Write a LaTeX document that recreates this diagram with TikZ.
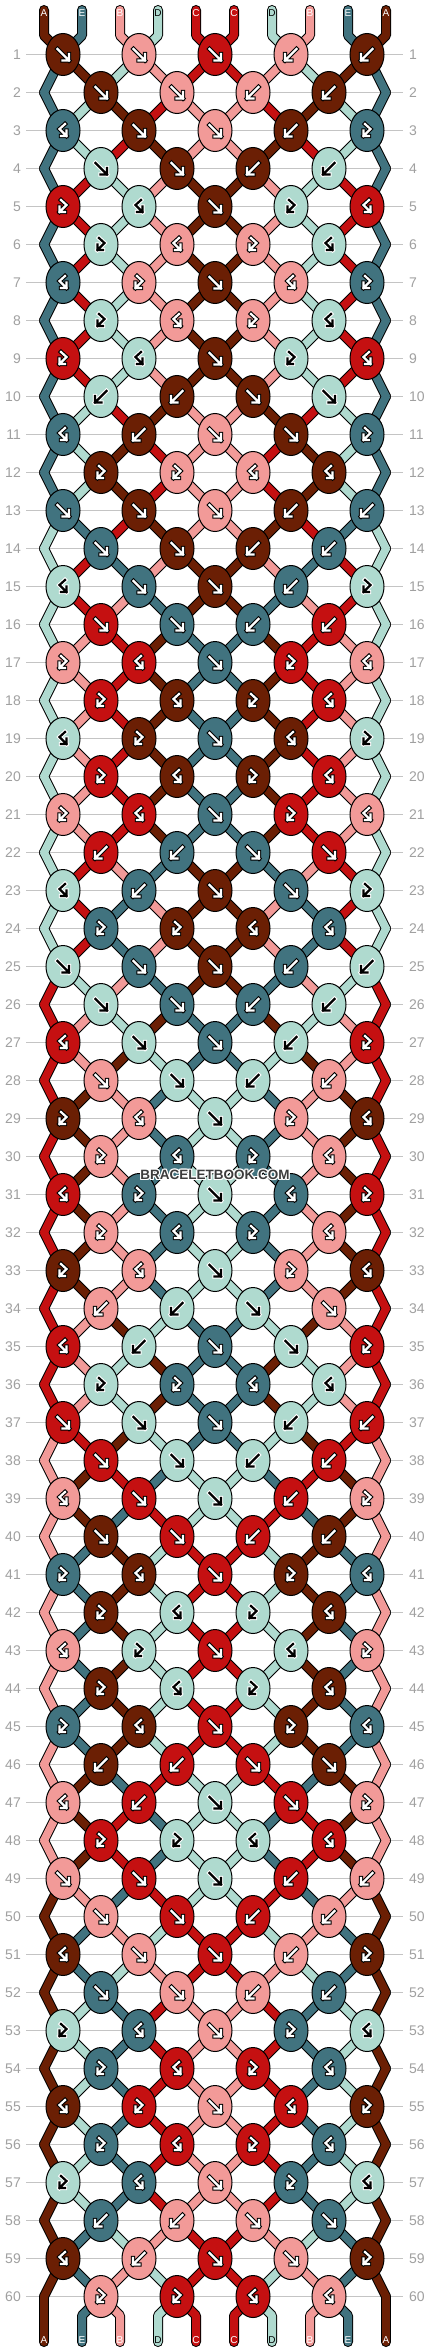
\documentclass[tikz,border=0pt]{standalone}
\usepackage{fontspec}
\setmainfont{Liberation Sans}
\definecolor{cA}{HTML}{6B1F04}
\definecolor{cE}{HTML}{41737F}
\definecolor{cB}{HTML}{F29A98}
\definecolor{cD}{HTML}{AFDACF}
\definecolor{cC}{HTML}{C51011}
\definecolor{gridgray}{HTML}{C4C4C4}
\definecolor{numgray}{HTML}{A0A0A0}
\definecolor{wmgray}{HTML}{3C3C3C}

\newcount\passmode

% knot types of the 12-row repeat: F forward, B backward, f forward-backward, b backward-forward
\def\rowtypes#1{\ifcase#1\or F,F,F,B,B\or F,F,B,B\or f,F,F,B,b\or F,F,B,B\or b,f,F,b,f\or b,f,b,f\or f,b,F,f,b\or b,f,b,f\or b,f,F,b,f\or B,B,F,F\or f,B,F,F,b\or b,b,f,f\fi}

% x of position #2 in row #1
\newcommand\setpx[2]{%
  \ifodd#1\relax
    \ifodd#2\relax \edef\pxv{\the\numexpr 63+38*(#2-1)\relax}\else \edef\pxv{\the\numexpr 63+38*#2\relax}\fi
  \else
    \ifnum#2=0 \def\pxv{44}\else\ifnum#2=9 \def\pxv{386}\else
      \ifodd#2\relax \edef\pxv{\the\numexpr 101+38*(#2-1)\relax}\else \edef\pxv{\the\numexpr 101+38*(#2-2)\relax}\fi
    \fi\fi
  \fi}

\newcommand\seg[2]{%
  \ifcase\passmode \draw[strout] #1;\or \draw[strfill,draw=#2] #1;\else\fi}

\newcommand\knotarrow[4]{%
  \if D#4\def\aout{white}\def\ain{black}\else\def\aout{black}\def\ain{white}\fi
  \if F#1\def\apath{(-5.5,-5.5) -- (6,6) (6,-0.5) -- (6,6) -- (-0.5,6)}\fi
  \if B#1\def\apath{(5.5,-5.5) -- (-6,6) (-6,-0.5) -- (-6,6) -- (0.5,6)}\fi
  \if b#1\def\apath{(-2,-6.5) -- (3.5,-1.5) -- (-3.5,5.5) (-3.5,0) -- (-3.5,5.5) -- (2,5.5)}\fi
  \if f#1\def\apath{(2,-6.5) -- (-3.5,-1.5) -- (3.5,5.5) (3.5,0) -- (3.5,5.5) -- (-2,5.5)}\fi
  \edef\tmp{\noexpand\draw[shift={(#2,#3)},line width=4.4,\aout,line cap=rect,line join=miter] \apath;
            \noexpand\draw[shift={(#2,#3)},line width=2.2,\ain,line cap=rect,line join=miter] \apath;}%
  \tmp}

% one pass of the simulation: mode 0 string outlines, 1 string fills, 2 knots and end labels
\newcommand\dopass{%
  \foreach \c [count=\ii from 0] in {A,E,B,D,C,C,D,B,E,A}{\expandafter\xdef\csname s\ii\endcsname{\c}}%
  \foreach \rr in {1,...,60}{%
    \pgfmathtruncatemacro\per{mod(\rr-1,12)+1}%
    \pgfmathsetmacro\yr{16.5+38*\rr}%
    \pgfmathsetmacro\yp{16.5+38*(\rr-1)}%
    \ifnum\passmode<2
    \foreach \ii in {0,...,9}{%
      \setpx{\rr}{\ii}\let\xb\pxv
      \edef\scol{c\csname s\ii\endcsname}%
      \ifnum\rr=1
        \edef\xa{\the\numexpr44+38*\ii\relax}%
        \seg{(\xa,10) -- (\xa,35.5) -- (\xb,\yr)}{\scol}%
      \else
        \setpx{\numexpr\rr-1\relax}{\ii}\let\xa\pxv
        \seg{(\xa,\yp) -- (\xb,\yr)}{\scol}%
      \fi}%
    \fi
    \edef\types{\rowtypes{\per}}%
    \foreach \kt [count=\kj from 0] in \types {%
      \ifodd\rr\relax \edef\ka{\the\numexpr2*\kj\relax}\else\edef\ka{\the\numexpr2*\kj+1\relax}\fi
      \edef\kb{\the\numexpr\ka+1\relax}%
      \setpx{\rr}{\ka}%
      \edef\lc{\csname s\ka\endcsname}\edef\rc{\csname s\kb\endcsname}%
      \if F\kt \let\kc\lc
        \expandafter\xdef\csname s\ka\endcsname{\rc}\expandafter\xdef\csname s\kb\endcsname{\lc}\fi
      \if B\kt \let\kc\rc
        \expandafter\xdef\csname s\ka\endcsname{\rc}\expandafter\xdef\csname s\kb\endcsname{\lc}\fi
      \if f\kt \let\kc\lc\fi
      \if b\kt \let\kc\rc\fi
      \ifnum\passmode=2
        \draw[knotshape,fill=c\kc] (\pxv,\yr) ellipse [x radius=17,y radius=21];
        \knotarrow{\kt}{\pxv}{\yr}{\kc}%
      \fi}%
  }%
  \foreach \ii in {0,...,9}{%
    \setpx{60}{\ii}%
    \edef\xb{\the\numexpr44+38*\ii\relax}%
    \edef\scol{c\csname s\ii\endcsname}%
    \ifnum\ii=0 \seg{(\pxv,2296.5) -- (\xb,2342)}{\scol}%
    \else\ifnum\ii=9 \seg{(\pxv,2296.5) -- (\xb,2342)}{\scol}%
    \else \seg{(\pxv,2296.5) -- (\xb,2315.5) -- (\xb,2342)}{\scol}\fi\fi
    \ifnum\passmode=2
      \edef\bl{\csname s\ii\endcsname}%
      \def\tc{white}\if D\bl\def\tc{black}\fi
      \node[endlbl,text=\tc] (bot\ii) at (\xb,2340) {\bl};
    \fi}%
}

\begin{document}
\begin{tikzpicture}[x=1pt,y=-1pt,
  strout/.style={line width=10,black,line cap=round,line join=round},
  strfill/.style={line width=8,line cap=round,line join=round},
  knotshape/.style={line width=1,draw=black},
  gridl/.style={gridgray,line width=1.2},
  numlbl/.style={numgray,font=\fontsize{14}{14}\selectfont,inner sep=0},
  endlbl/.style={font=\fontsize{10}{10}\selectfont,inner sep=0},
  wm/.style={font=\fontsize{13.5}{13.5}\selectfont\bfseries,inner sep=0}]
\useasboundingbox (0,0) rectangle (430,2352);
\fill[white] (0,0) rectangle (430,2352);

% grid lines and row numbers
\foreach \rr in {1,...,60}{%
  \draw[gridl] (26,{16.5+38*\rr}) -- (403,{16.5+38*\rr});
  \node[numlbl,anchor=east] (nl\rr) at (21,{16.5+38*\rr}) {\rr};
  \node[numlbl,anchor=west] (nr\rr) at (409,{16.5+38*\rr}) {\rr};}

\global\passmode=0 \dopass
\global\passmode=1 \dopass
\global\passmode=2 \dopass

% top labels
\foreach \c [count=\ii from 0] in {A,E,B,D,C,C,D,B,E,A}{%
  \def\tc{white}\if D\c\def\tc{black}\fi
  \node[endlbl,text=\tc] (top\ii) at ({44+38*\ii},13) {\c};}

% watermark
\foreach \dx/\dy [count=\q] in {-1/-1,0/-1,1/-1,-1/0,1/0,-1/1,0/1,1/1}{%
  \node[wm,text=white] (wmh\q) at ({215+\dx*1},{1175+\dy*1}) {BRACELETBOOK.COM};}
\node[wm,text=wmgray] (wm) at (215,1175) {BRACELETBOOK.COM};
\end{tikzpicture}
\end{document}
